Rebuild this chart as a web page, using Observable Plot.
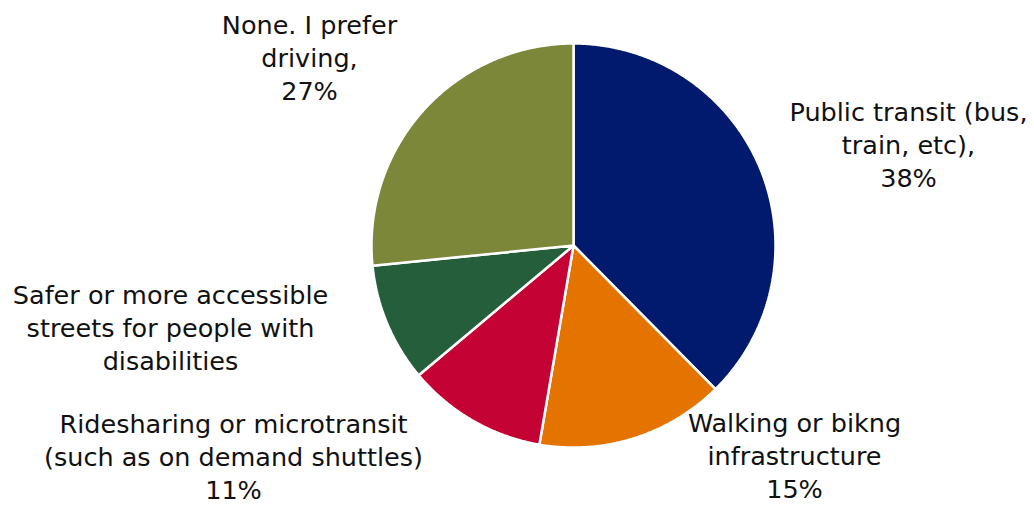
<!DOCTYPE html>
<html>
<head>
<meta charset="utf-8">
<script src="https://cdn.jsdelivr.net/npm/d3@7"></script>
<script src="https://cdn.jsdelivr.net/npm/@observablehq/plot@0.6"></script>
<style>
  html, body { margin: 0; padding: 0; background: #fff; }
  #chart svg { display: block; }
</style>
</head>
<body>
<div id="chart"></div>
<script>
// ---- data ----
const categories = [
  "Public transit (bus, train, etc)",
  "Walking or bikng infrastructure",
  "Ridesharing or microtransit (such as on demand shuttles)",
  "Safer or more accessible streets for people with disabilities",
  "None. I prefer driving"
];
const values = [37.6, 15.1, 11.2, 9.5, 26.6];
const labelTexts = [
  "Public transit (bus,\ntrain, etc),\n38%",
  "Walking or bikng\ninfrastructure\n15%",
  "Ridesharing or microtransit\n(such as on demand shuttles)\n11%",
  "Safer or more accessible\nstreets for people with\ndisabilities",
  "None. I prefer\ndriving,\n27%"
];
const colors = ["#011a6e", "#e47300", "#c40233", "#245e3b", "#7c8739"];

// ---- layout ----
const W = 1034, H = 505;
const cx = 573, cy = 245, R = 202;
const labelPos = [[908, 143], [794, 454], [233, 455], [170, 326], [309, 56]];

// build slice polygons (angles clockwise from 12 o'clock)
const total = d3.sum(values);
let acc = 0;
const slicePts = [];
values.forEach((v, i) => {
  const a0 = acc / total * 2 * Math.PI;
  acc += v;
  const a1 = acc / total * 2 * Math.PI;
  const n = Math.max(2, Math.ceil((a1 - a0) / (Math.PI / 360)));
  slicePts.push({cat: categories[i], x: cx, y: cy});
  for (let k = 0; k <= n; k++) {
    const a = a0 + (a1 - a0) * k / n;
    slicePts.push({cat: categories[i], x: cx + R * Math.sin(a), y: cy - R * Math.cos(a)});
  }
  slicePts.push({cat: categories[i], x: cx, y: cy});
});

const labels = categories.map((c, i) => ({cat: c, text: labelTexts[i], x: labelPos[i][0], y: labelPos[i][1]}));

const chart = Plot.plot({
  width: W,
  height: H,
  margin: 0,
  x: {domain: [0, W], range: [0, W], axis: null},
  y: {domain: [0, H], range: [0, H], axis: null},
  color: {domain: categories, range: colors},
  style: {fontFamily: "'DejaVu Sans', sans-serif", background: "#fff"},
  marks: [
    Plot.line(slicePts, {x: "x", y: "y", z: "cat", fill: "cat", stroke: "#fff", strokeWidth: 2.5, strokeLinejoin: "miter", curve: "linear"}),
    Plot.text(labels, {x: "x", y: "y", text: "text", fontSize: 25.5, lineHeight: 1.3, fill: "#111", textAnchor: "middle", lineAnchor: "middle"})
  ]
});
document.getElementById("chart").appendChild(chart);
</script>
</body>
</html>
